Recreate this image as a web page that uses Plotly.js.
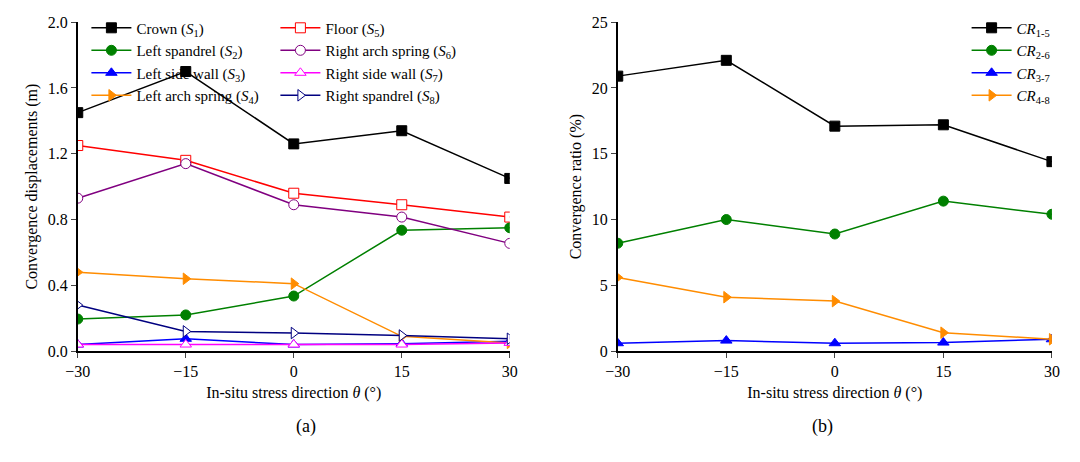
<!DOCTYPE html>
<html><head><script src="https://cdn.plot.ly/plotly-3.0.1.min.js"></script></head>
<body style="margin:0"><div id="c" style="width:1080px;height:462px"></div>
<script>
const theta = [-30, -15, 0, 15, 30];
const crown = [1.45, 1.70, 1.26, 1.34, 1.05];
const floor = [1.25, 1.16, 0.96, 0.89, 0.815];
const leftSpandrel = [0.195, 0.22, 0.335, 0.735, 0.75];
const rightArch = [0.93, 1.14, 0.89, 0.815, 0.655];
const leftWall = [0.04, 0.075, 0.04, 0.045, 0.06];
const rightWall = [0.04, 0.04, 0.04, 0.04, 0.05];
const leftArch = [0.48, 0.44, 0.41, 0.09, 0.05];
const rightSpandrel = [0.28, 0.12, 0.11, 0.095, 0.075];
const cr15 = [20.9, 22.1, 17.1, 17.2, 14.4];
const cr26 = [8.2, 10.0, 8.9, 11.4, 10.4];
const cr37 = [0.6, 0.8, 0.6, 0.65, 0.9];
const cr48 = [5.6, 4.1, 3.8, 1.4, 0.9];

function tr(y, name, color, sym, xa, ya, leg, open) {
  return {x: theta, y: y, name: name, mode: 'lines+markers', xaxis: xa, yaxis: ya, legend: leg,
    line: {color: color, width: 1.5},
    marker: {symbol: sym, size: 10, color: open ? 'white' : color, line: {color: color, width: 1}}};
}
const data = [
  tr(crown, 'Crown (<i>S</i><sub>1</sub>)', 'black', 'square', 'x', 'y', 'legend'),
  tr(leftSpandrel, 'Left spandrel (<i>S</i><sub>2</sub>)', 'green', 'circle', 'x', 'y', 'legend'),
  tr(leftWall, 'Left side wall (<i>S</i><sub>3</sub>)', 'blue', 'triangle-up', 'x', 'y', 'legend'),
  tr(leftArch, 'Left arch spring (<i>S</i><sub>4</sub>)', '#ff8c00', 'triangle-right', 'x', 'y', 'legend'),
  tr(floor, 'Floor (<i>S</i><sub>5</sub>)', 'red', 'square', 'x', 'y', 'legend2', true),
  tr(rightArch, 'Right arch spring (<i>S</i><sub>6</sub>)', 'purple', 'circle', 'x', 'y', 'legend2', true),
  tr(rightWall, 'Right side wall (<i>S</i><sub>7</sub>)', 'magenta', 'triangle-up', 'x', 'y', 'legend2', true),
  tr(rightSpandrel, 'Right spandrel (<i>S</i><sub>8</sub>)', 'navy', 'triangle-right', 'x', 'y', 'legend2', true),
  tr(cr15, '<i>CR</i><sub>1-5</sub>', 'black', 'square', 'x2', 'y2', 'legend3'),
  tr(cr26, '<i>CR</i><sub>2-6</sub>', 'green', 'circle', 'x2', 'y2', 'legend3'),
  tr(cr37, '<i>CR</i><sub>3-7</sub>', 'blue', 'triangle-up', 'x2', 'y2', 'legend3'),
  tr(cr48, '<i>CR</i><sub>4-8</sub>', '#ff8c00', 'triangle-right', 'x2', 'y2', 'legend3'),
];
const ax = {showline: true, linecolor: 'black', linewidth: 1.5, ticks: 'outside', ticklen: 5, showgrid: false, zeroline: false, tickfont: {size: 16}};
const xt = {text: 'In-situ stress direction <i>θ</i> (°)', font: {size: 16}, standoff: 8};
const leg = {bgcolor: 'rgba(0,0,0,0)', font: {size: 15}, itemwidth: 40, tracegroupgap: 0, yanchor: 'top', xanchor: 'left'};
const layout = {
  font: {family: 'Liberation Serif', color: 'black'},
  margin: {l: 0, r: 0, t: 0, b: 0}, paper_bgcolor: 'white', plot_bgcolor: 'white',
  xaxis: Object.assign({}, ax, {domain: [0.072, 0.472], range: [-30, 30], tickvals: theta, title: xt, anchor: 'y'}),
  yaxis: Object.assign({}, ax, {domain: [0.24, 0.952], range: [0, 2], dtick: 0.4, tickformat: '.1f', anchor: 'x',
    title: {text: 'Convergence displacements (m)', font: {size: 16}, standoff: 6}}),
  xaxis2: Object.assign({}, ax, {domain: [0.572, 0.974], range: [-30, 30], tickvals: theta, title: xt, anchor: 'y2'}),
  yaxis2: Object.assign({}, ax, {domain: [0.24, 0.952], range: [0, 25], dtick: 5, anchor: 'x2',
    title: {text: 'Convergence ratio (%)', font: {size: 16}, standoff: 6}}),
  legend: Object.assign({}, leg, {x: 0.08, y: 0.975}),
  legend2: Object.assign({}, leg, {x: 0.255, y: 0.975}),
  legend3: Object.assign({}, leg, {x: 0.895, y: 0.975}),
  annotations: [
    {text: '(a)', x: 0.272, y: 0.05, xref: 'paper', yref: 'paper', showarrow: false, font: {size: 18}},
    {text: '(b)', x: 0.773, y: 0.05, xref: 'paper', yref: 'paper', showarrow: false, font: {size: 18}}
  ]
};
Plotly.newPlot('c', data, layout, {displayModeBar: false});
</script></body></html>
